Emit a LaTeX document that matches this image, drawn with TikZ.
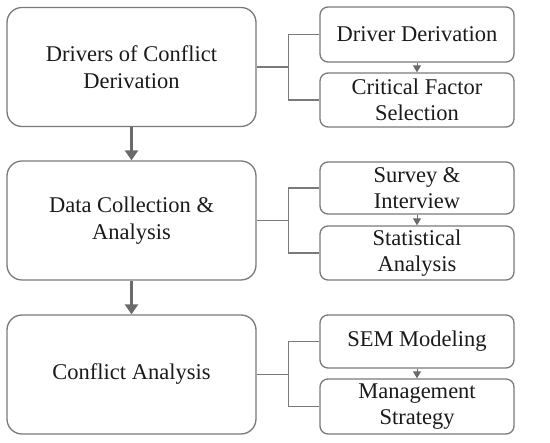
\documentclass[tikz,border=0pt]{standalone}
\usepackage{fontspec}
\setmainfont{Liberation Serif}
\usetikzlibrary{arrows.meta,calc}
\definecolor{lineg}{HTML}{7A7A7A}
\definecolor{arrg}{HTML}{6A6A6A}
\definecolor{txt}{HTML}{1A1A1A}
\tikzset{
  bigbox/.style={draw=lineg, line width=1.3pt, rounded corners=15pt, minimum width=249pt, minimum height=119pt, align=center, font=\fontsize{22.5}{27}\selectfont, text=txt, inner sep=0pt},
  smallbox/.style={draw=lineg, line width=1.3pt, rounded corners=8pt, minimum width=194pt, align=center, font=\fontsize{22.5}{26}\selectfont, text=txt, inner sep=0pt},
  link/.style={draw=lineg, line width=1.3pt},
  bigarrow/.style={draw=arrg, line width=3.5pt, -{Triangle[width=13pt,length=10pt]}},
  smallarrow/.style={draw=arrg, line width=1pt, -{Triangle[width=8pt,length=7pt]}, fill=arrg}
}
\begin{document}
\begin{tikzpicture}[x=1pt,y=-1pt]
\useasboundingbox (0,0) rectangle (550,443);
% big boxes
\node[bigbox] (A) at (131.5,67) {Drivers of Conflict\\Derivation};
\node[bigbox] (B) at (131.5,220.5) {Data Collection \&\\Analysis};
\node[bigbox] (C) at (131.5,374.5) {Conflict Analysis};
% small boxes
\node[smallbox, minimum height=55pt] (A1) at (417,34.5) {Driver Derivation};
\node[smallbox, minimum height=54pt] (A2) at (417,100) {Critical Factor\\Selection};
\node[smallbox, minimum height=52pt] (B1) at (417,188) {Survey \&\\Interview};
\node[smallbox, minimum height=54pt] (B2) at (417,253) {Statistical\\Analysis};
\node[smallbox, minimum height=53pt] (C1) at (417,341.5) {SEM Modeling};
\node[smallbox, minimum height=55pt] (C2) at (417,406.5) {Management\\Strategy};
% junctions
\coordinate (jA) at ($(A.east)+(32,0)$);
\coordinate (jB) at ($(B.east)+(32,0)$);
\coordinate (jC) at ($(C.east)+(32,0)$);
\draw[link] (A.east) -- (jA);
\draw[link] (A1.west) -| (jA) |- (A2.west);
\draw[link] (B.east) -- (jB);
\draw[link] (B1.west) -| (jB) |- (B2.west);
\draw[link] (C.east) -- (jC);
\draw[link] (C1.west) -| (jC) |- (C2.west);
% arrows
\draw[bigarrow] (A.south) -- (B.north);
\draw[bigarrow] (B.south) -- (C.north);
\draw[smallarrow] (A1.south) -- (A2.north);
\draw[smallarrow] (B1.south) -- (B2.north);
\draw[smallarrow] (C1.south) -- (C2.north);
\end{tikzpicture}
\end{document}
